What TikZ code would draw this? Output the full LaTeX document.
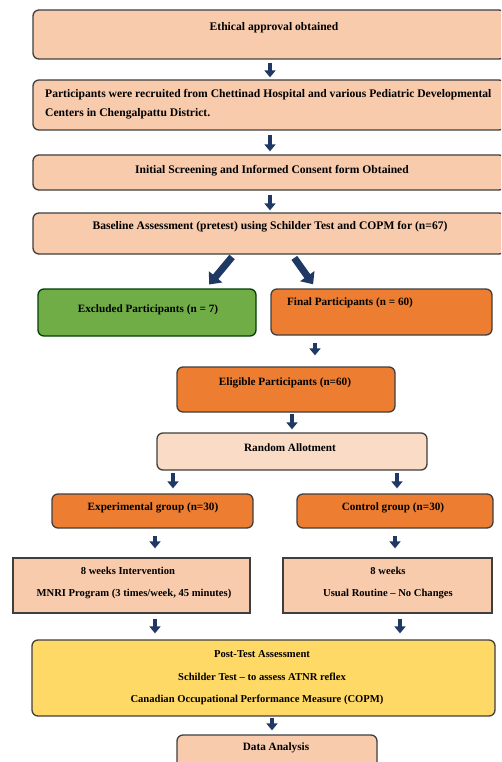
\documentclass[tikz,border=0pt]{standalone}
\usepackage{fontspec}
\setmainfont{Liberation Serif}
\usetikzlibrary{arrows.meta,calc}
\definecolor{peach}{HTML}{F8CBAD}
\definecolor{lpeach}{HTML}{FADBC6}
\definecolor{orng}{HTML}{ED7D31}
\definecolor{grn}{HTML}{70AD47}
\definecolor{yel}{HTML}{FFD966}
\definecolor{navy}{HTML}{1F3864}
\definecolor{bord}{HTML}{3F3F3F}
\tikzset{
  box/.style={draw=bord, line width=1.3pt, rounded corners=6pt, inner sep=0pt},
  sqbox/.style={draw=bord, line width=1.3pt, inner sep=0pt},
  lbl/.style={font=\bfseries\fontsize{11.2}{13}\selectfont, inner sep=0pt, anchor=center},
  lblsm/.style={font=\bfseries\fontsize{10.6}{13}\selectfont, inner sep=0pt, anchor=center},
  lbltop/.style={font=\bfseries\fontsize{11.6}{13}\selectfont, inner sep=0pt, anchor=center},
  barrow/.style={navy, line width=4.5pt, -{Triangle[width=11pt,length=7pt]}},
  bigarrow/.style={navy, line width=7pt, -{Triangle[width=17pt,length=10pt]}},
}
\begin{document}
\begin{tikzpicture}[x=1pt,y=-1pt]
\useasboundingbox (0,0) rectangle (501,762);
\clip (0,0) rectangle (501,762);
\fill[white] (0,0) rectangle (501,762);
% boxes
\node[box, fill=peach, minimum width=472pt, minimum height=49pt] (b1) at (269,34.5) {};
\node[box, fill=peach, minimum width=472pt, minimum height=50pt] (b2) at (269,105) {};
\node[box, fill=peach, minimum width=472pt, minimum height=35pt] (b3) at (269,172.5) {};
\node[box, fill=peach, minimum width=472pt, minimum height=41pt] (b4) at (269,233.5) {};
\node[box, fill=grn, draw=green!25!black, minimum width=218pt, minimum height=47pt] (excl) at (147,312.5) {};
\node[box, fill=orng, draw=bord, minimum width=221pt, minimum height=46pt] (fin) at (381.5,312) {};
\node[box, fill=orng, minimum width=218pt, minimum height=45pt] (elig) at (286,389.5) {};
\node[box, fill=lpeach, minimum width=270pt, minimum height=37pt] (rand) at (292,451.5) {};
\node[box, fill=orng, minimum width=201pt, minimum height=34pt] (exp) at (152.5,511) {};
\node[box, fill=orng, minimum width=196pt, minimum height=34pt] (ctrl) at (395,511) {};
\node[sqbox, fill=peach, minimum width=237pt, minimum height=55pt] (ivl) at (131.5,585.5) {};
\node[sqbox, fill=peach, minimum width=209pt, minimum height=55pt] (ivr) at (387.5,585.5) {};
\node[box, fill=yel, minimum width=463pt, minimum height=76pt] (post) at (263.5,678) {};
\node[box, fill=peach, minimum width=200pt, minimum height=44pt] (data) at (277,757) {};
% labels
\node[lbltop] (t1) at (274,28) {Ethical approval obtained};
\node[lbltop, anchor=west] (t2a) at (45,95) {Participants were recruited from Chettinad Hospital and various Pediatric Developmental};
\node[lbltop, anchor=west] (t2b) at (45,114) {Centers in Chengalpattu District.};
\node[lbltop] (t3) at (272,171) {Initial Screening and Informed Consent form Obtained};
\node[lbltop] (t4) at (270,227) {Baseline Assessment (pretest) using Schilder Test and COPM for (n=67)};
\node[lbl] (t5) at (148,310) {Excluded Participants (n = 7)};
\node[lbl] (t6) at (350,303) {Final Participants (n = 60)};
\node[lbl] (t7) at (285,383) {Eligible Participants (n=60)};
\node[lbl] (t8) at (290,448) {Random Allotment};
\node[lbl] (t9) at (153,508) {Experimental group (n=30)};
\node[lbl] (t10) at (393,508) {Control group (n=30)};
\node[lblsm] (t11a) at (128,571) {8 weeks Intervention};
\node[lblsm] (t11b) at (134,594) {MNRI Program (3 times/week, 45 minutes)};
\node[lblsm] (t12a) at (388,571) {8 weeks};
\node[lblsm] (t12b) at (388,594) {Usual Routine -- No Changes};
\node[lblsm] (t13a) at (262,654) {Post-Test Assessment};
\node[lblsm] (t13b) at (262,677) {Schilder Test -- to assess ATNR reflex};
\node[lblsm] (t13c) at (257,700) {Canadian Occupational Performance Measure (COPM)};
\node[lbl] (t14) at (276,748) {Data Analysis};
% arrow x positions
\coordinate (xa) at (270,0);
\coordinate (xl1) at (234,0);
\coordinate (xl2) at (206,0);
\coordinate (xr1) at (292,0);
\coordinate (xr2) at (316,0);
\coordinate (xf) at (315,0);
\coordinate (xe) at (292,0);
\coordinate (xg1) at (173,0);
\coordinate (xg2) at (397,0);
\coordinate (xi1) at (155,0);
\coordinate (xi2) at (395,0);
\coordinate (xp2) at (400,0);
\coordinate (xd) at (272,0);
% arrows
\draw[barrow, shorten <=3pt, shorten >=2pt] (b1.south -| xa) -- (b2.north -| xa);
\draw[barrow, shorten <=4pt, shorten >=3pt] (b2.south -| xa) -- (b3.north -| xa);
\draw[barrow, shorten <=4pt, shorten >=2pt] (b3.south -| xa) -- (b4.north -| xa);
\draw[bigarrow, shorten <=3pt, shorten >=5pt] (b4.south -| xl1) -- (excl.north -| xl2);
\draw[bigarrow, shorten <=4pt, shorten >=5pt] (b4.south -| xr1) -- (fin.north -| xr2);
\draw[barrow, shorten <=7pt, shorten >=11pt] (fin.south -| xf) -- (elig.north -| xf);
\draw[barrow, shorten <=1pt, shorten >=3pt] (elig.south -| xe) -- (rand.north -| xe);
\draw[barrow, shorten <=2pt, shorten >=5pt] (rand.south -| xg1) -- (exp.north -| xg1);
\draw[barrow, shorten <=2pt, shorten >=5pt] (rand.south -| xg2) -- (ctrl.north -| xg2);
\draw[barrow, shorten <=7pt, shorten >=9pt] (exp.south -| xi1) -- (ivl.north -| xi1);
\draw[barrow, shorten <=7pt, shorten >=9pt] (ctrl.south -| xi2) -- (ivr.north -| xi2);
\draw[barrow, shorten <=5pt, shorten >=6pt] (ivl.south -| xi1) -- (post.north -| xi1);
\draw[barrow, shorten <=5pt, shorten >=6pt] (ivr.south -| xp2) -- (post.north -| xp2);
\draw[barrow, shorten <=1pt, shorten >=4pt] (post.south -| xd) -- (data.north -| xd);
\end{tikzpicture}
\end{document}
